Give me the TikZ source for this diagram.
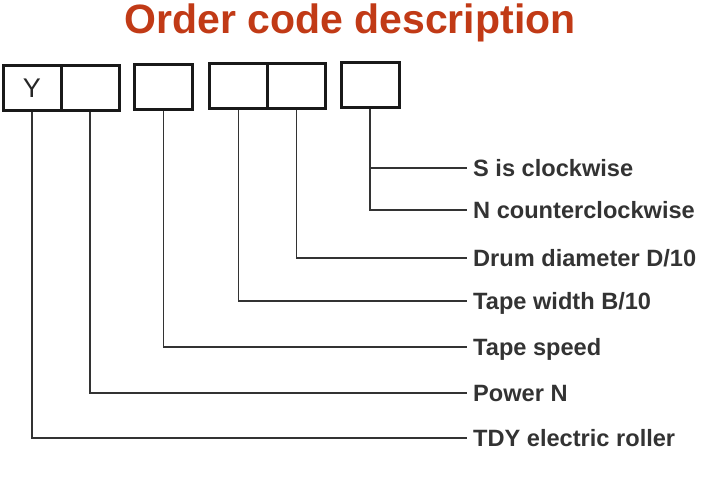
\documentclass[tikz,border=0pt]{standalone}
\usepackage{fontspec}
\setmainfont{Liberation Sans}
\usepackage{tikz}
\definecolor{titlered}{RGB}{193,58,22}
\definecolor{inkgray}{RGB}{51,51,51}

\begin{document}
\begin{tikzpicture}[x=1pt,y=-1pt,
    cell/.style={draw=black!90, line width=3pt, minimum width=58pt, minimum height=45pt, inner sep=0pt},
    lab/.style={anchor=west, inner xsep=6pt, inner ysep=0pt, text height=17pt, text depth=0pt, text=inkgray, font=\fontsize{23.6}{26}\selectfont\bfseries},
    lead/.style={line width=1.7pt, draw=inkgray}]
    \useasboundingbox (0,0) rectangle (711,478);

    \node[anchor=base, text=titlered, font=\fontsize{41}{46}\selectfont\bfseries] (title) at (350,34) {Order code description};

    \node[cell, font=\fontsize{27}{28}\selectfont, text=black!85] (c1) at (32,88) {Y};
    \node[cell] (c2) at (90,88) {};
    \node[cell] (c3) at (163.5,87) {};
    \node[cell] (c4) at (238.5,86.5) {};
    \node[cell] (c5) at (296.5,86.5) {};
    \node[cell] (c6) at (370,85.5) {};

    \node[lab] (cw) at (467,168) {S is clockwise};
    \node[lab] (ccw) at (467,210) {N counterclockwise};
    \node[lab] (drum) at (467,258) {Drum diameter D/10};
    \node[lab] (width) at (467,301) {Tape width B/10};
    \node[lab] (speed) at (467,347) {Tape speed};
    \node[lab] (power) at (467,393) {Power N};
    \node[lab] (tdy) at (467,438) {TDY electric roller};

    \draw[lead] (c6.south) |- (cw.west);
    \draw[lead] (c6.south) |- (ccw.west);
    \draw[lead] (c5.south) |- (drum.west);
    \draw[lead] (c4.south) |- (width.west);
    \draw[lead] (c3.south) |- (speed.west);
    \draw[lead] (c2.south) |- (power.west);
    \draw[lead] (c1.south) |- (tdy.west);
\end{tikzpicture}
\end{document}
